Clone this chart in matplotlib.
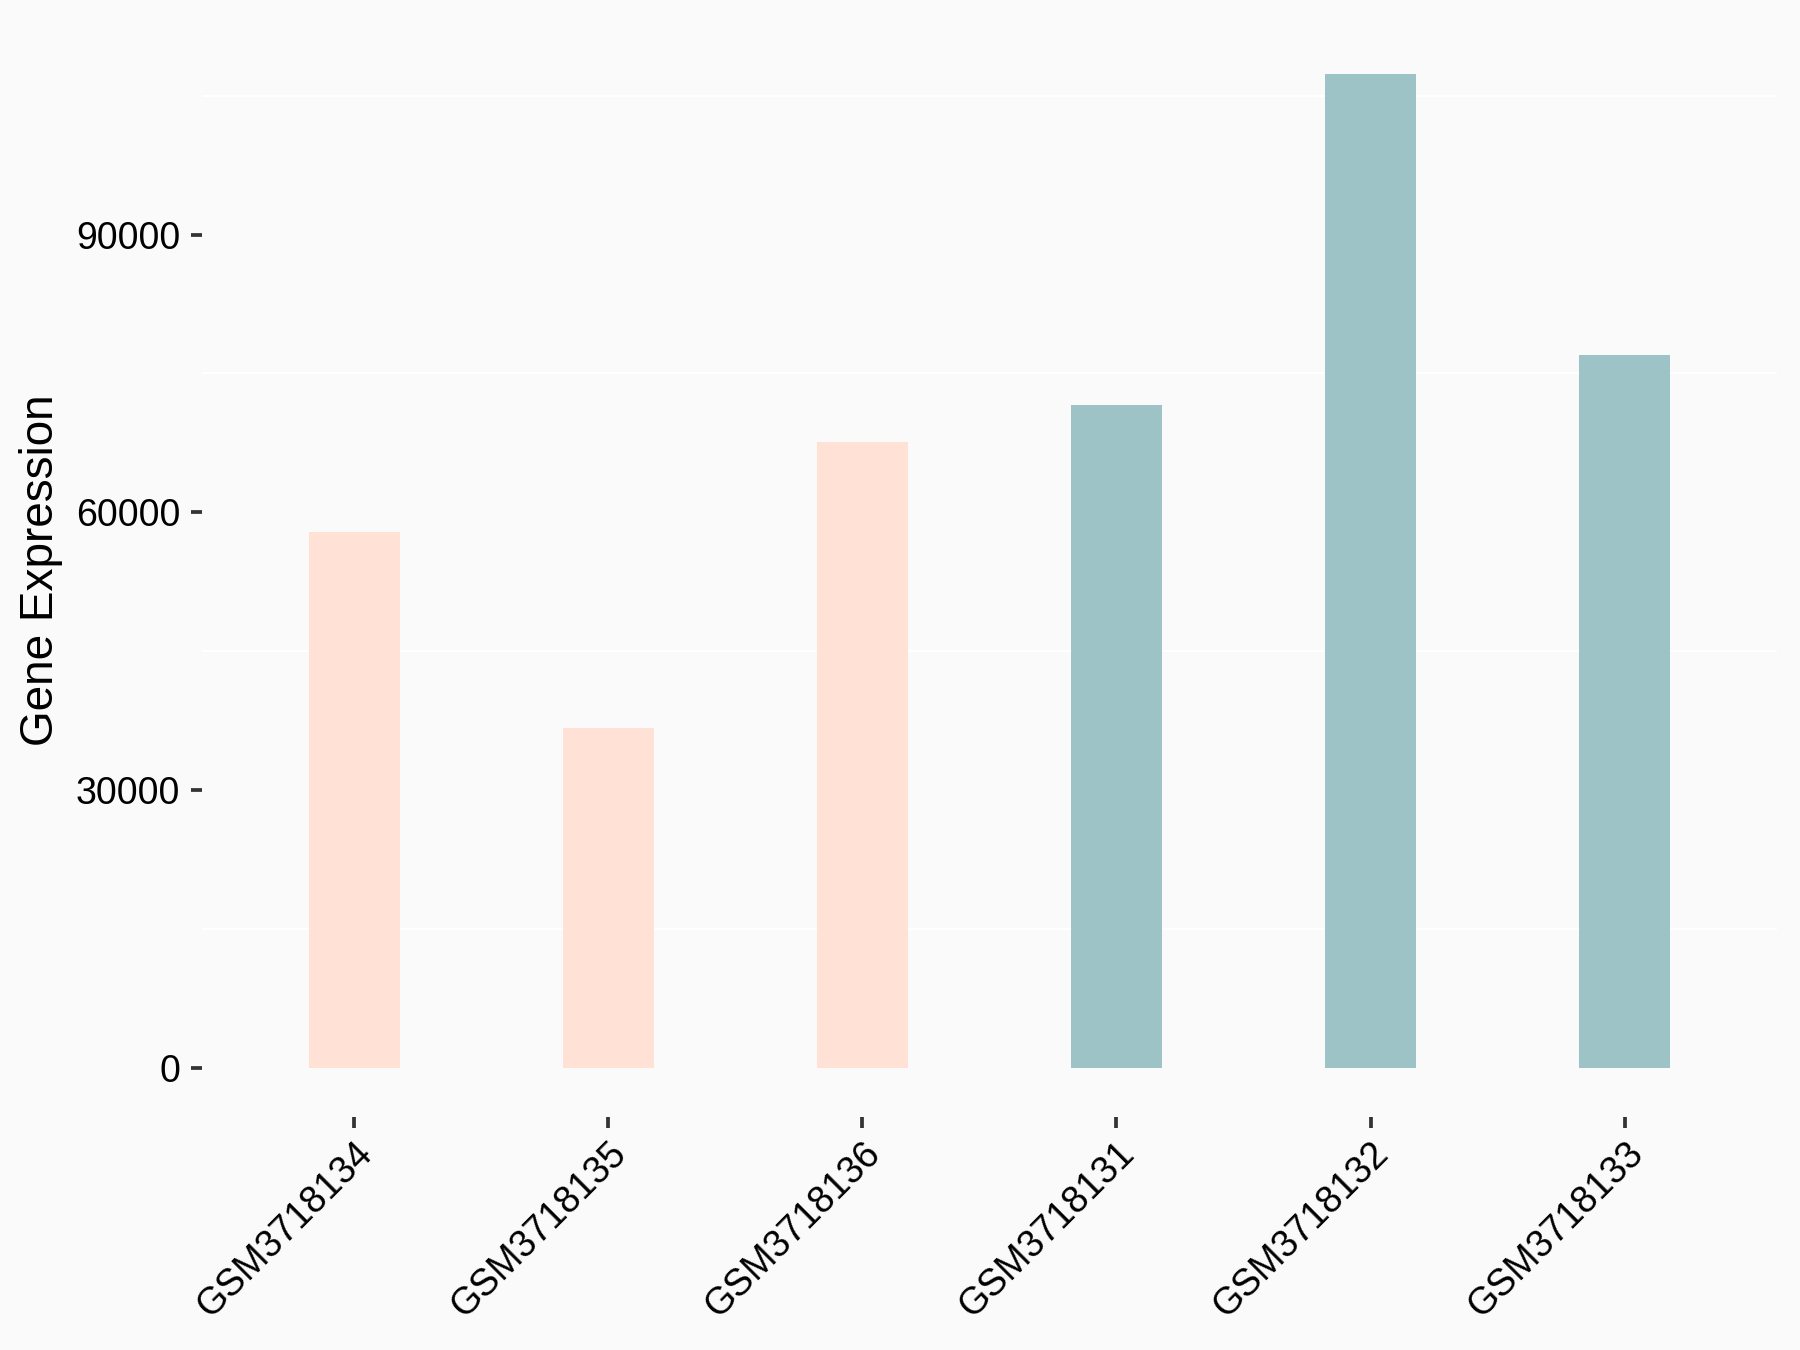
import numpy as np
import matplotlib
matplotlib.use("Agg")
import matplotlib.pyplot as plt

# data
samples = ["GSM3718134", "GSM3718135", "GSM3718136",
           "GSM3718131", "GSM3718132", "GSM3718133"]
expression = [57900, 36700, 67600, 71600, 107400, 77000]
groups = ["a", "a", "a", "b", "b", "b"]
group_colors = {"a": "#FFE1D6", "b": "#9DC3C7"}
y_ticks = [0, 30000, 60000, 90000]
y_minor = [15000, 45000, 75000, 105000]


def main():
    plt.rcParams["font.family"] = ["Liberation Sans", "DejaVu Sans"]
    bg = "#FAFAFA"

    fig = plt.figure(figsize=(12, 9), dpi=150, facecolor=bg)
    ax = fig.add_axes([0.1122, 0.1723, 0.8750, 0.810])
    ax.set_facecolor(bg)

    x = np.arange(1, len(samples) + 1)
    colors = [group_colors[g] for g in groups]
    ax.bar(x, expression, width=0.36, color=colors, zorder=2)

    # ggplot-like expansion
    ymax = max(expression)
    ax.set_ylim(-0.05 * ymax, 1.05 * ymax)
    ax.set_xlim(0.4, len(samples) + 0.6)

    ax.set_yticks(y_ticks)
    ax.set_yticklabels([str(v) for v in y_ticks])
    ax.set_yticks(y_minor, minor=True)
    ax.grid(which="minor", axis="y", color="white", linewidth=1.0, zorder=0)
    ax.grid(which="major", visible=False)

    ax.set_xticks(x)
    ax.set_xticklabels(samples, rotation=45, ha="right", va="top",
                       rotation_mode="anchor")

    for s in ax.spines.values():
        s.set_visible(False)

    ax.tick_params(axis="both", which="major", length=5.5, width=1.8,
                   color="#333333", labelsize=18, labelcolor="black", pad=5)
    ax.tick_params(axis="x", which="major", pad=3)
    ax.tick_params(axis="y", which="minor", length=0)

    ax.set_ylabel("Gene Expression", fontsize=22, labelpad=6)

    fig.savefig("out.png", dpi=150, facecolor=bg)


if __name__ == "__main__":
    main()
